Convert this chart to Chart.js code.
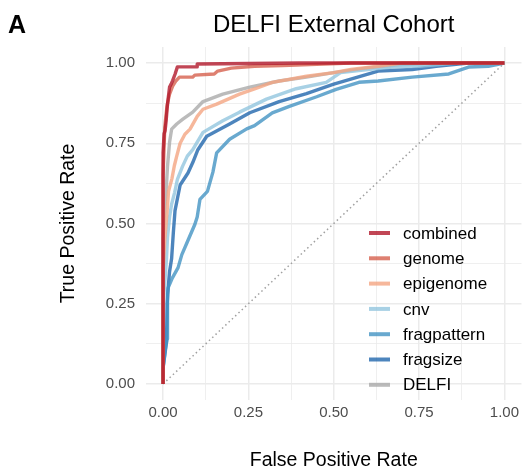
<!DOCTYPE html>
<html>
<head>
<meta charset="utf-8">
<script src="https://cdn.jsdelivr.net/npm/chart.js@4/dist/chart.umd.min.js"></script>
<style>
  html, body { margin: 0; padding: 0; background: #fff; }
  #wrap { width: 523px; height: 474px; position: relative; }
</style>
</head>
<body>
<div id="wrap"><canvas id="roc"></canvas></div>
<script>
// ROC curves (false positive rate -> true positive rate)
const combinedFpr = [0, 0, 0.003, 0.006, 0.009, 0.012, 0.015, 0.019, 0.024, 0.028, 0.035, 0.042, 0.1, 0.1, 0.4, 1];
const combinedTpr = [0, 0.72, 0.78, 0.79, 0.82, 0.86, 0.89, 0.925, 0.935, 0.945, 0.965, 0.988, 0.988, 0.997, 1, 1];

const genomeFpr = [0, 0, 0.005, 0.012, 0.019, 0.028, 0.038, 0.048, 0.087, 0.093, 0.15, 0.16, 0.2, 0.268, 0.35, 0.45, 0.55, 1];
const genomeTpr = [0, 0.65, 0.8, 0.87, 0.903, 0.928, 0.945, 0.956, 0.956, 0.9625, 0.966, 0.975, 0.984, 0.99, 0.992, 0.996, 1, 1];

const epigenomeFpr = [0, 0, 0.005, 0.012, 0.016, 0.026, 0.033, 0.04, 0.05, 0.064, 0.079, 0.1, 0.117, 0.157, 0.224, 0.27, 0.32, 0.42, 0.5, 0.55, 0.63, 0.7, 1];
const epigenomeTpr = [0, 0.35, 0.45, 0.54, 0.6, 0.64, 0.68, 0.71, 0.75, 0.778, 0.794, 0.834, 0.856, 0.872, 0.903, 0.92, 0.94, 0.959, 0.97, 0.98, 0.99, 1, 1];

const cnvFpr = [0, 0, 0.006, 0.01, 0.013, 0.019, 0.025, 0.034, 0.042, 0.057, 0.071, 0.087, 0.117, 0.175, 0.224, 0.303, 0.39, 0.478, 0.52, 0.6, 0.68, 0.75, 0.86, 1];
const cnvTpr = [0, 0.25, 0.33, 0.39, 0.456, 0.52, 0.56, 0.597, 0.6375, 0.678, 0.71, 0.73, 0.784, 0.82, 0.847, 0.8875, 0.92, 0.94, 0.97, 0.98, 0.988, 0.99, 1, 1];

const fragpatternFpr = [0, 0, 0.008, 0.012, 0.013, 0.015, 0.027, 0.044, 0.055, 0.07, 0.093, 0.1, 0.108, 0.13, 0.146, 0.157, 0.195, 0.245, 0.268, 0.32, 0.37, 0.45, 0.507, 0.574, 0.63, 0.73, 0.837, 0.895, 0.953, 1];
const fragpatternTpr = [0, 0.05, 0.12, 0.14, 0.28, 0.3, 0.33, 0.3625, 0.403, 0.44, 0.497, 0.52, 0.575, 0.6, 0.66, 0.72, 0.7625, 0.795, 0.805, 0.845, 0.865, 0.895, 0.918, 0.94, 0.944, 0.956, 0.966, 0.9875, 0.99, 1];

const fragsizeFpr = [0, 0, 0.01, 0.012, 0.015, 0.019, 0.025, 0.03, 0.035, 0.05, 0.073, 0.087, 0.102, 0.128, 0.195, 0.254, 0.34, 0.42, 0.5, 0.63, 0.73, 0.8, 0.895, 1];
const fragsizeTpr = [0, 0.05, 0.13, 0.25, 0.3, 0.35, 0.39, 0.47, 0.54, 0.62, 0.6575, 0.69, 0.73, 0.772, 0.81, 0.845, 0.88, 0.905, 0.934, 0.975, 0.98, 0.99, 1, 1];

const delfiFpr = [0, 0, 0.005, 0.01, 0.013, 0.019, 0.025, 0.04, 0.058, 0.087, 0.117, 0.175, 0.254, 0.34, 0.42, 0.5, 0.6, 0.7, 0.8, 1];
const delfiTpr = [0, 0.45, 0.55, 0.62, 0.678, 0.753, 0.794, 0.81, 0.825, 0.847, 0.88, 0.903, 0.925, 0.944, 0.956, 0.97, 0.985, 0.995, 1, 1];

const seriesNames = ['combined', 'genome', 'epigenome', 'cnv', 'fragpattern', 'fragsize', 'DELFI'];
const seriesColors = ['rgba(178,24,43,0.8)', 'rgba(214,96,77,0.8)', 'rgba(244,165,130,0.8)', 'rgba(146,197,222,0.8)',
                      'rgba(67,147,195,0.8)', 'rgba(33,102,172,0.8)', 'rgba(170,170,170,0.8)'];
const xTickValues = [0, 0.25, 0.5, 0.75, 1];
const minorTickValues = [0.125, 0.375, 0.625, 0.875];

const seriesX = [combinedFpr, genomeFpr, epigenomeFpr, cnvFpr, fragpatternFpr, fragsizeFpr, delfiFpr];
const seriesY = [combinedTpr, genomeTpr, epigenomeTpr, cnvTpr, fragpatternTpr, fragsizeTpr, delfiTpr];

const FONT = "'Liberation Sans', Arial, Helvetica, sans-serif";

function toPoints(xs, ys) {
  return xs.map((x, i) => ({x: x, y: ys[i]}));
}

let datasets = seriesNames.map((name, i) => ({
  label: name,
  data: toPoints(seriesX[i], seriesY[i]),
  borderColor: seriesColors[i],
  backgroundColor: seriesColors[i],
  borderWidth: 3.4,
  pointRadius: 0,
  showLine: true,
  tension: 0,
  borderJoinStyle: 'round'
}));
// chance line
datasets.push({
  label: 'chance',
  data: [{x: 0, y: 0}, {x: 1, y: 1}],
  borderColor: '#a0a0a0',
  borderWidth: 1.5,
  borderDash: [1.5, 3],
  pointRadius: 0,
  showLine: true
});

function setTicks(scale) {
  let all = xTickValues.concat(minorTickValues).sort((a, b) => a - b);
  scale.ticks = all.map(v => ({value: v}));
}
function isMajor(v) {
  return xTickValues.some(t => Math.abs(t - v) < 1e-9);
}

const gridOpts = {
  color: '#ebebeb',
  lineWidth: ctx => (ctx.tick && isMajor(ctx.tick.value)) ? 1.5 : 0.8,
  drawTicks: false
};

// title, panel letter and legend drawn on the canvas
const decorations = {
  id: 'decorations',
  afterDraw(chart) {
    const c = chart.ctx;
    const area = chart.chartArea;
    c.save();
    c.fillStyle = '#000';
    c.textBaseline = 'alphabetic';
    c.font = 'bold 25px ' + FONT;
    c.textAlign = 'left';
    c.fillText('A', 8, 33);
    c.font = '24px ' + FONT;
    c.textAlign = 'center';
    c.fillText('DELFI External Cohort', (area.left + area.right) / 2, 32);

    // legend
    c.font = '17px ' + FONT;
    c.textAlign = 'left';
    c.textBaseline = 'middle';
    seriesNames.forEach((name, i) => {
      const y = 233 + i * 25.3;
      c.strokeStyle = seriesColors[i];
      c.lineWidth = 4;
      c.beginPath();
      c.moveTo(369, y);
      c.lineTo(390, y);
      c.stroke();
      c.fillStyle = '#000';
      c.fillText(name, 403, y + 1);
    });
    c.restore();
  }
};

new Chart(document.getElementById('roc'), {
  type: 'scatter',
  data: { datasets: datasets },
  options: {
    responsive: true,
    maintainAspectRatio: false,
    animation: false,
    layout: { padding: { top: 47, right: 0, left: 0, bottom: 0 } },
    plugins: { legend: { display: false }, tooltip: { enabled: false } },
    scales: {
      x: {
        type: 'linear',
        min: -0.05, max: 1.05,
        afterBuildTicks: setTicks,
        afterFit: s => { s.height = 74; },
        grid: gridOpts,
        border: { display: false },
        ticks: {
          autoSkip: false, maxRotation: 0, padding: 4,
          color: '#4d4d4d', font: { family: FONT, size: 15 },
          callback: v => isMajor(v) ? v.toFixed(2) : ''
        },
        title: {
          display: true, text: 'False Positive Rate', color: '#000',
          font: { family: FONT, size: 19.5 }, padding: { top: 0, bottom: 2 }
        }
      },
      y: {
        type: 'linear',
        min: -0.05, max: 1.05,
        afterBuildTicks: setTicks,
        afterFit: s => { s.width = 146; },
        grid: gridOpts,
        border: { display: false },
        ticks: {
          autoSkip: false, padding: 11,
          color: '#4d4d4d', font: { family: FONT, size: 15 },
          callback: v => isMajor(v) ? v.toFixed(2) : ''
        },
        title: {
          display: true, text: 'True Positive Rate', color: '#000',
          font: { family: FONT, size: 19.5 }, padding: { top: 57, bottom: 0 }
        }
      }
    }
  },
  plugins: [decorations]
});
</script>
</body>
</html>
